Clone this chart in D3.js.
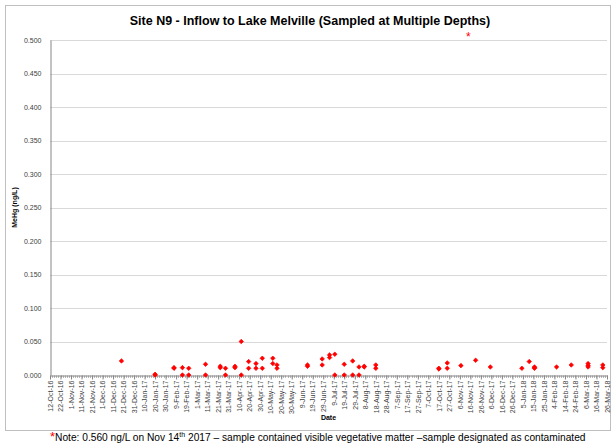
<!DOCTYPE html>
<html>
<head>
<meta charset="utf-8">
<script src="https://cdn.jsdelivr.net/npm/d3@7"></script>
<style>
  body { margin: 0; background: #fff; }
  svg { display: block; font-family: "Liberation Sans", Arial, sans-serif; }
</style>
</head>
<body>
<svg id="chart" width="613" height="445"></svg>
<script>
const TITLE = "Site N9 - Inflow to Lake Melville (Sampled at Multiple Depths)";
const Y_TITLE = "MeHg (ng/L)";
const X_TITLE = "Date";

// x axis labels, every 10 days
const xTickLabels = [
  "12-Oct-16", "22-Oct-16", "1-Nov-16", "11-Nov-16", "21-Nov-16", "1-Dec-16",
  "11-Dec-16", "21-Dec-16", "31-Dec-16", "10-Jan-17", "20-Jan-17", "30-Jan-17",
  "9-Feb-17", "19-Feb-17", "1-Mar-17", "11-Mar-17", "21-Mar-17", "31-Mar-17",
  "10-Apr-17", "20-Apr-17", "30-Apr-17", "10-May-17", "20-May-17", "30-May-17",
  "9-Jun-17", "19-Jun-17", "29-Jun-17", "9-Jul-17", "19-Jul-17", "29-Jul-17",
  "8-Aug-17", "18-Aug-17", "28-Aug-17", "7-Sep-17", "17-Sep-17", "27-Sep-17",
  "7-Oct-17", "17-Oct-17", "27-Oct-17", "6-Nov-17", "16-Nov-17", "26-Nov-17",
  "6-Dec-17", "16-Dec-17", "26-Dec-17", "5-Jan-18", "15-Jan-18", "25-Jan-18",
  "4-Feb-18", "14-Feb-18", "24-Feb-18", "6-Mar-18", "16-Mar-18", "26-Mar-18"
];
const yTicks = [0, 0.05, 0.1, 0.15, 0.2, 0.25, 0.3, 0.35, 0.4, 0.45, 0.5];

// samples (several depths share a date)
const sampleDates = [
  "2016-12-19",
  "2017-01-20", "2017-01-20",
  "2017-02-07", "2017-02-07",
  "2017-02-15", "2017-02-15",
  "2017-02-21", "2017-02-21",
  "2017-03-09", "2017-03-09",
  "2017-03-23", "2017-03-23",
  "2017-03-28", "2017-03-28",
  "2017-04-06", "2017-04-06",
  "2017-04-12", "2017-04-12",
  "2017-04-19", "2017-04-19",
  "2017-04-26", "2017-04-26",
  "2017-05-02", "2017-05-02",
  "2017-05-12", "2017-05-12",
  "2017-05-16", "2017-05-16",
  "2017-06-14", "2017-06-14",
  "2017-06-28", "2017-06-28",
  "2017-07-05", "2017-07-05",
  "2017-07-10", "2017-07-10",
  "2017-07-19", "2017-07-19",
  "2017-07-27", "2017-07-27",
  "2017-08-02", "2017-08-02",
  "2017-08-07", "2017-08-07",
  "2017-08-18", "2017-08-18",
  "2017-10-17", "2017-10-17",
  "2017-10-25", "2017-10-25",
  "2017-11-07",
  "2017-11-21",
  "2017-12-05",
  "2018-01-04",
  "2018-01-11",
  "2018-01-16", "2018-01-16", "2018-01-16",
  "2018-02-06",
  "2018-02-20",
  "2018-03-08", "2018-03-08", "2018-03-08",
  "2018-03-22", "2018-03-22"
];
const mehgValues = [
  0.021,
  0.000, 0.001,
  0.011, 0.010,
  0.011, 0.000,
  0.010, 0.000,
  0.016, 0.000,
  0.013, 0.011,
  0.010, 0.000,
  0.013, 0.011,
  0.050, 0.000,
  0.020, 0.010,
  0.017, 0.010,
  0.025, 0.010,
  0.025, 0.017,
  0.015, 0.010,
  0.015, 0.013,
  0.024, 0.015,
  0.030, 0.026,
  0.031, 0.000,
  0.016, 0.000,
  0.021, 0.000,
  0.012, 0.000,
  0.013, 0.012,
  0.015, 0.010,
  0.010, 0.009,
  0.018, 0.010,
  0.014,
  0.022,
  0.012,
  0.010,
  0.020,
  0.012, 0.011, 0.010,
  0.012,
  0.015,
  0.017, 0.014, 0.012,
  0.015, 0.011
];

const NOTE_DATE = "2017-11-14";

const svg = d3.select("#chart");
const width = 613;
const height = 445;
const margin = { top: 40, right: 6, bottom: 70, left: 50 };

const parseLabel = d3.timeParse("%d-%b-%y");
const parseIso = d3.timeParse("%Y-%m-%d");
const tickDates = xTickLabels.map(parseLabel);
const data = sampleDates.map((d, i) => ({ date: parseIso(d), value: mehgValues[i] }));

// outer chart frame
svg.append("rect")
  .attr("x", 5.5).attr("y", 5.5)
  .attr("width", 605).attr("height", 425)
  .attr("fill", "#fff")
  .attr("stroke", "#bfbfbf");

const x = d3.scaleTime()
  .domain(d3.extent(tickDates))
  .range([margin.left, width - margin.right]);

const y = d3.scaleLinear()
  .domain([0, 0.5])
  .range([height - margin.bottom, margin.top]);

// gridlines
svg.append("g")
  .selectAll("line")
  .data(yTicks.slice(1))
  .join("line")
  .attr("x1", margin.left)
  .attr("x2", width - margin.right)
  .attr("y1", (d) => Math.round(y(d)) + 0.5)
  .attr("y2", (d) => Math.round(y(d)) + 0.5)
  .attr("stroke", "#d9d9d9");

// y axis
const yAxis = svg.append("g")
  .attr("transform", `translate(${margin.left + 0.5},0)`)
  .call(d3.axisLeft(y).tickValues(yTicks).tickFormat(d3.format(".3f")).tickSize(0).tickPadding(9));
yAxis.select(".domain").attr("stroke", "#868686");
yAxis.selectAll("text").attr("font-size", 7).attr("fill", "#404040");

// x axis minor ticks every 2 days
const minorTicks = d3.timeDay.range(tickDates[0], d3.timeDay.offset(tickDates[tickDates.length - 1], 1))
  .filter((d, i) => i % 2 === 0);
const axisY = Math.round(y(0)) + 0.5;
svg.append("g")
  .selectAll("line")
  .data(minorTicks)
  .join("line")
  .attr("x1", (d) => Math.round(x(d)) + 0.5)
  .attr("x2", (d) => Math.round(x(d)) + 0.5)
  .attr("y1", axisY)
  .attr("y2", axisY + 2.5)
  .attr("stroke", "#a6a6a6")
  .attr("stroke-width", 0.8);

const xAxis = svg.append("g")
  .attr("transform", `translate(0,${axisY})`)
  .call(d3.axisBottom(x).tickValues(tickDates).tickFormat((d, i) => xTickLabels[i]).tickSize(4).tickSizeOuter(0));
xAxis.select(".domain").attr("stroke", "#868686");
xAxis.selectAll(".tick line").attr("stroke", "#868686");
xAxis.selectAll("text")
  .attr("font-size", 7)
  .attr("fill", "#404040")
  .attr("transform", "rotate(-90)")
  .attr("text-anchor", "end")
  .attr("dy", "0.32em")
  .attr("x", -5)
  .attr("y", 0);

// markers
svg.append("g")
  .selectAll("path")
  .data(data)
  .join("path")
  .attr("transform", (d) => `translate(${x(d.date)},${y(d.value)})`)
  .attr("d", d3.symbol(d3.symbolDiamond2, 13))
  .attr("fill", "#ff0000")
  .attr("stroke", "#ff0000")
  .attr("stroke-width", 0.7);

// title
svg.append("text")
  .attr("x", 310)
  .attr("y", 25)
  .attr("text-anchor", "middle")
  .attr("font-size", 12.5)
  .attr("font-weight", "bold")
  .attr("fill", "#000")
  .text(TITLE);

// asterisk marking the off-scale sample
svg.append("text")
  .attr("x", x(parseIso(NOTE_DATE)))
  .attr("y", 41)
  .attr("text-anchor", "middle")
  .attr("font-size", 12)
  .attr("fill", "#ff0000")
  .text("*");

// axis titles
svg.append("text")
  .attr("transform", `translate(17,${(y(0) + y(0.5)) / 2}) rotate(-90)`)
  .attr("text-anchor", "middle")
  .attr("font-size", 7)
  .attr("font-weight", "bold")
  .attr("fill", "#000")
  .text(Y_TITLE);

svg.append("text")
  .attr("x", (x.range()[0] + x.range()[1]) / 2)
  .attr("y", 420)
  .attr("text-anchor", "middle")
  .attr("font-size", 7)
  .attr("font-weight", "bold")
  .attr("fill", "#000")
  .text(X_TITLE);

// footnote
const note = svg.append("text")
  .attr("x", 50)
  .attr("y", 441)
  .attr("font-size", 10.2)
  .attr("fill", "#000");
note.append("tspan").attr("fill", "#ff0000").attr("font-size", 13).attr("dy", 0).text("*");
note.append("tspan").text("Note: 0.560 ng/L on Nov 14");
note.append("tspan").attr("font-size", 7).attr("dy", -4).text("th");
note.append("tspan").attr("dy", 4).text(" 2017 \u2013 sample contained visible vegetative matter \u2013sample designated as contaminated");
</script>
</body>
</html>
